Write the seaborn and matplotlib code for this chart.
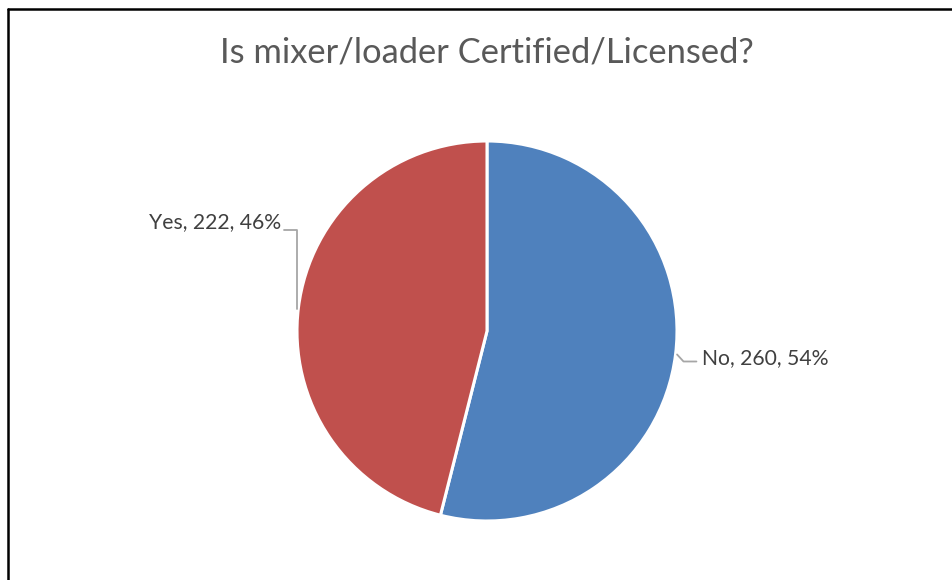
import numpy as np
import matplotlib
matplotlib.use("Agg")
import matplotlib.pyplot as plt
import seaborn as sns
from matplotlib.lines import Line2D

categories = ["No", "Yes"]
counts = [260, 222]
colors = ["#4F81BD", "#C0504D"]
title = "Is mixer/loader Certified/Licensed?"

sns.set_theme(style="white")
plt.rcParams["font.family"] = ["Lato", "DejaVu Sans"]

W, H = 952, 580
fig = plt.figure(figsize=(W / 100, H / 100), dpi=100)
fig.patch.set_facecolor("white")

# pie area: center (487, 331) px, radius 190 px
cx, cy, r = 487, 331, 190
ax = fig.add_axes([(cx - r) / W, (H - cy - r) / H, 2 * r / W, 2 * r / H])
wedges, _ = ax.pie(counts, colors=colors, startangle=90, counterclock=False,
                   wedgeprops=dict(edgecolor="white", linewidth=2.2))
ax.set_xlim(-1, 1)
ax.set_ylim(-1, 1)
ax.set_aspect("equal")
ax.axis("off")

total = sum(counts)
labels = [f"{c}, {v}, {round(100 * v / total)}%" for c, v in zip(categories, counts)]
lc = "#A6A6A6"
tc = "#404040"

for w, lab in zip(wedges, labels):
    mid = np.deg2rad((w.theta1 + w.theta2) / 2)
    x0, y0 = np.cos(mid), np.sin(mid)
    if x0 > 0:
        xs = [x0 + 0.008, x0 + 0.042, x0 + 0.11]
        ys = [y0, y0 - 0.037, y0 - 0.037]
        ax.add_line(Line2D(xs, ys, color=lc, lw=1.3, clip_on=False))
        ax.text(xs[-1] + 0.03, ys[-1] + 0.02, lab, ha="left", va="center",
                fontsize=15.2, color=tc, clip_on=False)
    else:
        xs = [x0 - 0.006, x0 - 0.006, x0 - 0.075]
        ys = [y0 - 0.01, y0 + 0.41, y0 + 0.41]
        ax.add_line(Line2D(xs, ys, color=lc, lw=1.3, clip_on=False))
        ax.text(xs[-1] - 0.015, ys[-1] + 0.04, lab, ha="right", va="center",
                fontsize=15.2, color=tc, clip_on=False)

fig.text(487 / W, 1 - 52 / H, title, ha="center", va="center",
         fontsize=24.8, color="#595959")

# chart border (left and top visible)
fig.add_artist(Line2D([7.5 / W, 7.5 / W], [0, 1 - 9 / H], transform=fig.transFigure,
                      color="black", lw=1.8))
fig.add_artist(Line2D([7.5 / W, 1], [1 - 9 / H, 1 - 9 / H], transform=fig.transFigure,
                      color="black", lw=1.8))

fig.savefig("out.png", dpi=100, facecolor="white")
